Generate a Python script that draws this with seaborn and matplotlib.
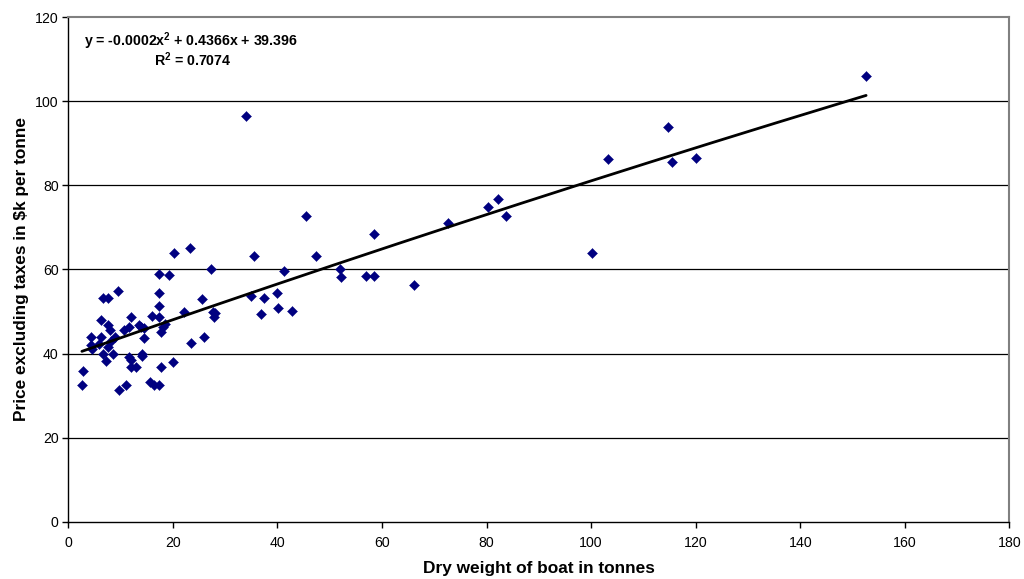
import matplotlib
matplotlib.use("Agg")
import matplotlib.pyplot as plt
import seaborn as sns
import numpy as np
import pandas as pd

weight = [2.6, 2.8, 4.3, 4.3, 4.6, 6.2, 6.2, 5.9, 6.7, 7.6, 6.7, 7.2, 7.5, 7.6, 7.9, 8.1, 8.5, 8.9, 9.5,
          9.7, 10.6, 11.1, 11.6, 11.9, 11.6, 11.9, 12.0, 13.0, 13.5, 13.9, 14.4, 14.5, 14.1, 14.1,
          15.7, 16.4, 17.4, 16.0, 17.4, 17.4, 17.4, 17.4, 17.7, 18.2, 18.5, 17.8, 19.3, 20.2, 20.1,
          22.1, 23.2, 23.5, 25.6, 26.0, 27.3, 27.6, 27.8, 28.0,
          34.0, 35.5, 34.9, 36.9, 37.4, 40.0, 40.1, 41.2, 42.8, 45.5, 47.3, 52.0, 52.2, 57.0, 58.4,
          58.4, 66.1, 72.6, 80.3, 82.2, 83.7, 100.2, 103.2, 115.5, 114.8, 120.1, 152.6]
price = [32.5, 35.8, 44.0, 42.1, 41.0, 48.0, 44.0, 42.3, 53.3, 53.3, 39.9, 38.2, 41.5, 46.7, 45.5, 43.1, 39.8, 44.0, 54.8,
         31.4, 45.5, 32.5, 46.3, 48.8, 39.1, 38.5, 36.9, 36.7, 46.8, 46.3, 46.1, 43.7, 39.5, 40.0,
         33.3, 32.6, 32.6, 49.0, 58.8, 54.5, 51.2, 48.8, 45.1, 46.3, 47.1, 36.7, 58.6, 64.0, 37.9,
         49.8, 65.2, 42.5, 52.9, 44.0, 60.2, 49.8, 48.8, 49.6,
         96.5, 63.3, 53.6, 49.3, 53.3, 54.4, 50.8, 59.6, 50.1, 72.7, 63.3, 60.2, 58.3, 58.5, 58.5,
         68.4, 56.2, 71.0, 74.8, 76.7, 72.8, 63.8, 86.2, 85.5, 93.8, 86.4, 106.0]
trend_coef = [-0.0002, 0.4366, 39.396]
x_ticks = [0, 20, 40, 60, 80, 100, 120, 140, 160, 180]
y_ticks = [0, 20, 40, 60, 80, 100, 120]

sns.set_theme(style="white")
plt.rcParams['font.family'] = ['Liberation Sans', 'DejaVu Sans']
plt.rcParams['text.color'] = 'black'
plt.rcParams['axes.labelcolor'] = 'black'
plt.rcParams['mathtext.fontset'] = 'custom'
plt.rcParams['mathtext.rm'] = 'Liberation Sans:bold'
plt.rcParams['mathtext.bf'] = 'Liberation Sans:bold'
plt.rcParams['mathtext.default'] = 'bf'

df = pd.DataFrame({"weight": weight, "price": price})

fig = plt.figure(figsize=(10.24, 5.79), dpi=100)
ax = fig.add_axes([0.0667, 0.0987, 0.9190, 0.8719])

ax.set_xlim(0, 180)
ax.set_ylim(0, 120)
ax.set_xticks(x_ticks)
ax.set_yticks(y_ticks)
for yv in y_ticks[1:-1]:
    ax.axhline(yv, color='black', lw=0.9, zorder=0)

sns.scatterplot(data=df, x="weight", y="price", marker='D', s=26, color='#000080',
                edgecolor='#000080', linewidth=0.3, ax=ax, zorder=3)

xs = np.linspace(min(weight), max(weight), 200)
ys = np.polyval(trend_coef, xs)
ax.plot(xs, ys, color='black', lw=2.0, zorder=4)

for side in ['top', 'right']:
    ax.spines[side].set_color('#808080')
    ax.spines[side].set_linewidth(1.5)
for side in ['left', 'bottom']:
    ax.spines[side].set_color('black')
    ax.spines[side].set_linewidth(1.0)

ax.tick_params(axis='both', which='both', direction='out', length=4, width=1, color='black',
               labelsize=10.2, labelcolor='black', bottom=True, left=True, pad=3)
ax.tick_params(axis='x', pad=6.5)

ax.set_xlabel("Dry weight of boat in tonnes", fontsize=12.4, fontweight='bold', labelpad=7.5, color='black')
ax.set_ylabel("Price excluding taxes in $k per tonne", fontsize=12.4, fontweight='bold', labelpad=4, color='black')

fig.text(191/1024, 1 - 41/579, "y = -0.0002x$^{2}$ + 0.4366x + 39.396", fontsize=10.2, fontweight='bold',
         ha='center', va='center', color='black')
fig.text(193/1024, 1 - 60/579, "R$^{2}$ = 0.7074", fontsize=10.2, fontweight='bold',
         ha='center', va='center', color='black')

fig.savefig("out.png", dpi=100, facecolor='white')
